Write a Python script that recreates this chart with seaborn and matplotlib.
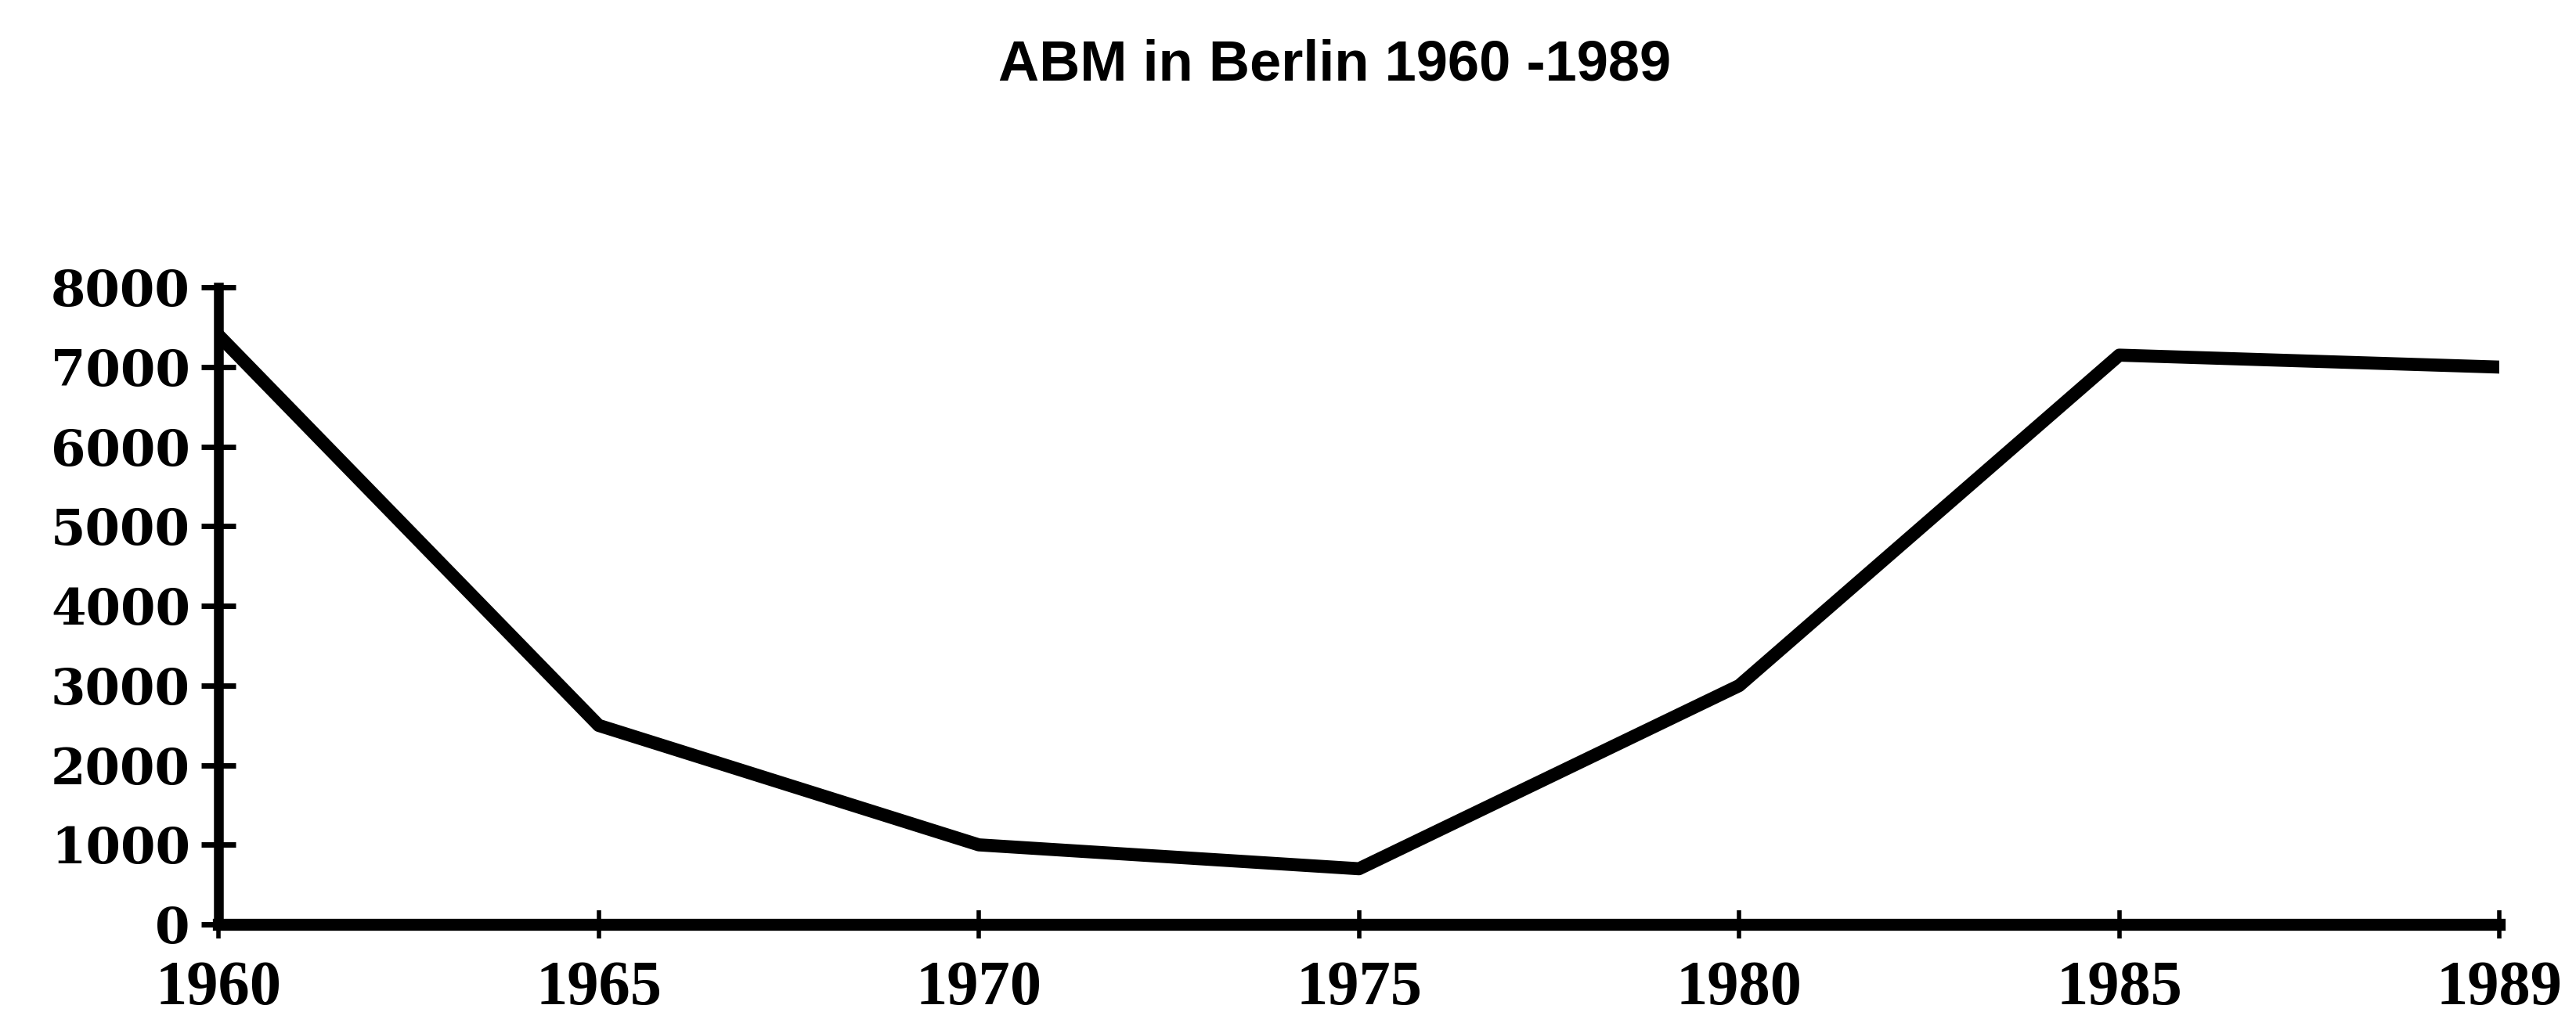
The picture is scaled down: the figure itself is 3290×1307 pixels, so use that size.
import matplotlib
matplotlib.use("Agg")
import matplotlib.pyplot as plt
import seaborn as sns
import pandas as pd

years = ["1960", "1965", "1970", "1975", "1980", "1985", "1989"]
abm = [7400, 2500, 1000, 700, 3000, 7150, 7000]
y_ticks = [0, 1000, 2000, 3000, 4000, 5000, 6000, 7000, 8000]
title = "ABM in Berlin 1960 -1989"

sns.set_theme(style="white")
plt.rcParams["font.family"] = ["Liberation Serif", "DejaVu Serif"]
plt.rcParams["text.color"] = "black"
plt.rcParams["xtick.color"] = "black"
plt.rcParams["ytick.color"] = "black"
plt.rcParams["axes.edgecolor"] = "black"

df = pd.DataFrame({"Jahr": years, "ABM": abm})

fig = plt.figure(figsize=(32.91, 13.07), dpi=100)
ax = fig.add_axes([0.0848, 0.0963, 0.970 - 0.0848, 0.719 - 0.0963])

sns.lineplot(data=df, x="Jahr", y="ABM", ax=ax, color="black",
             linewidth=12, sort=False, solid_joinstyle="round",
             solid_capstyle="round")

ax.set_xlim(0, len(years) - 1)
ax.set_ylim(0, 8000)
ax.set_yticks(y_ticks)
ax.set_yticklabels([str(v) for v in y_ticks], fontsize=46, fontweight="bold",
                   family=["DejaVu Serif"], color="black")
ax.set_xticks(range(len(years)))
ax.set_xticklabels(years, fontsize=58, fontweight="bold", color="black")
ax.set_xlabel("")
ax.set_ylabel("")

for s in ["top", "right"]:
    ax.spines[s].set_visible(False)
ax.spines["left"].set_linewidth(9)
ax.spines["bottom"].set_linewidth(11)

ax.tick_params(axis="y", direction="inout", length=32, width=5, pad=10,
               left=True)
ax.tick_params(axis="x", direction="inout", length=26, width=4, pad=20,
               bottom=True)

fig.text(0.518, 0.936, title, ha="center", va="center", fontsize=52,
         fontweight="bold", color="black",
         family=["Liberation Sans", "DejaVu Sans"])

fig.savefig("out.png", dpi=100, facecolor="white")
